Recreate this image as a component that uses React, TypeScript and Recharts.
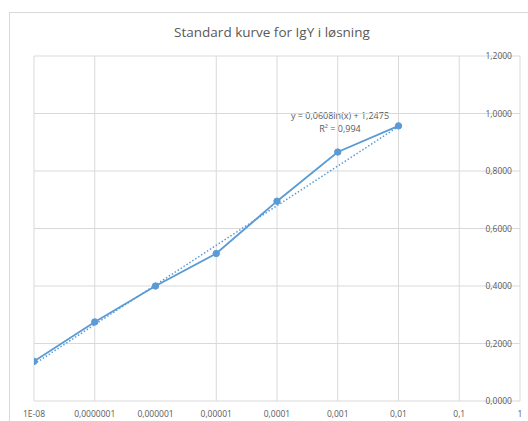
import { LineChart, Line, XAxis, YAxis, CartesianGrid } from 'recharts';

const concentrations = [1e-8, 1e-7, 1e-6, 1e-5, 1e-4, 1e-3, 1e-2];
const absorbance = [0.138, 0.275, 0.4, 0.513, 0.695, 0.866, 0.957];

// trendlinjens endepunkter
const trendX = [1e-8, 1e-2];
const trendY = [0.128, 0.955];

const xTicks = [1e-8, 1e-7, 1e-6, 1e-5, 1e-4, 1e-3, 1e-2, 1e-1, 1];
const xTickLabels = ['1E-08', '0,0000001', '0,000001', '0,00001', '0,0001', '0,001', '0,01', '0,1', '1'];
const yTicks = [0, 0.2, 0.4, 0.6, 0.8, 1.0, 1.2];

const BLUE = '#5b9bd5';
const GRID = '#d9d9d9';
const TEXT = '#595959';
const FONT = '"Open Sans", "Noto Sans", sans-serif';

export default function App() {
  const data = concentrations.map((x, i) => ({ x, y: absorbance[i] }));
  const trend = trendX.map((x, i) => ({ x, y: trendY[i] }));

  return (
    <div
      style={{
        position: 'fixed',
        left: 9,
        top: 12,
        width: 526,
        height: 420,
        borderLeft: `1px solid ${GRID}`,
        borderTop: `1px solid ${GRID}`,
        background: '#fff',
        fontFamily: FONT,
      }}
    >
      <div
        style={{
          position: 'absolute',
          left: 0,
          width: 524,
          top: 10,
          textAlign: 'center',
          fontSize: 13.5,
          color: TEXT,
        }}
      >
        Standard kurve for IgY i løsning
      </div>
      <div
        style={{
          position: 'absolute',
          left: 260,
          width: 140,
          top: 96,
          textAlign: 'center',
          fontSize: 9,
          lineHeight: '13px',
          color: TEXT,
        }}
      >
        y = 0,0608ln(x) + 1,2475
        <br />
        R² = 0,994
      </div>
      <LineChart
        width={526}
        height={410}
        margin={{ top: 43, right: 16, left: 24, bottom: 2 }}
        style={{ position: 'absolute', left: 0, top: 0 }}
      >
        <CartesianGrid stroke={GRID} strokeWidth={1} />
        <XAxis
          dataKey="x"
          type="number"
          scale="log"
          domain={[1e-8, 1]}
          ticks={xTicks}
          allowDataOverflow
          axisLine={false}
          tickLine={false}
          height={20}
          tickMargin={4}
          tick={{ fill: TEXT, fontSize: 8.5, fontFamily: FONT }}
          tickFormatter={(v: number) => xTickLabels[xTicks.findIndex(t => Math.abs(Math.log10(t) - Math.log10(v)) < 0.01)] ?? ''}
        />
        <YAxis
          type="number"
          orientation="right"
          mirror
          width={60}
          domain={[0, 1.2]}
          ticks={yTicks}
          axisLine={false}
          tickLine={false}
          tick={{ fill: TEXT, fontSize: 8.5, fontFamily: FONT }}
          tickFormatter={(v: number) => v.toFixed(4).replace('.', ',')}
        />
        <Line
          data={trend}
          dataKey="y"
          stroke={BLUE}
          strokeWidth={1.5}
          strokeDasharray="1.5 2"
          dot={false}
          isAnimationActive={false}
        />
        <Line
          data={data}
          dataKey="y"
          stroke={BLUE}
          strokeWidth={1.8}
          dot={{ r: 3.2, fill: BLUE, stroke: BLUE, strokeWidth: 1 }}
          isAnimationActive={false}
        />
      </LineChart>
    </div>
  );
}
